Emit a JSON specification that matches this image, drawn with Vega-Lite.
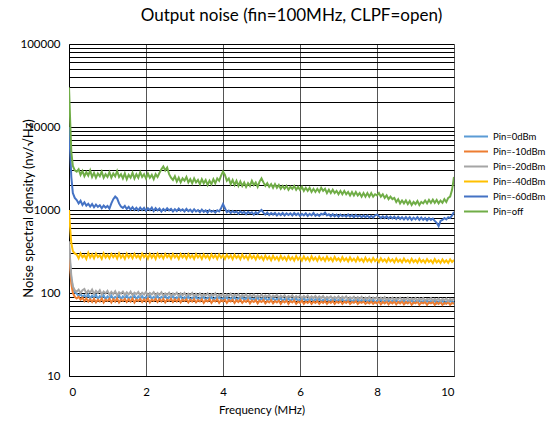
{
  "$schema": "https://vega.github.io/schema/vega-lite/v6.json",
  "width": 385,
  "height": 332,
  "autosize": {"type": "none"},
  "padding": {"left": 69, "top": 44, "right": 94, "bottom": 47},
  "background": "white",
  "title": {
    "text": "Output noise (fin=100MHz, CLPF=open)",
    "font": "Lato",
    "fontSize": 17,
    "fontWeight": "normal",
    "color": "#000",
    "anchor": "middle",
    "dx": 30,
    "offset": 13
  },
  "datasets": {
    "names": [
      {"k": "a", "name": "Pin=0dBm"},
      {"k": "b", "name": "Pin=-10dBm"},
      {"k": "c", "name": "Pin=-20dBm"},
      {"k": "d", "name": "Pin=-40dBm"},
      {"k": "e", "name": "Pin=-60dBm"},
      {"k": "g", "name": "Pin=off"}
    ]
  },
  "data": {
    "values": [
      {"f":0,"a":380,"b":350,"c":420,"d":1000,"e":10000,"g":30000},
      {"f":0.03,"a":220,"b":200,"c":250,"d":600,"e":5000,"g":12000},
      {"f":0.06,"a":150,"b":130,"c":160,"d":400,"e":2500,"g":5000},
      {"f":0.1,"a":115,"b":100,"c":120,"d":320,"e":1600,"g":3400},
      {"f":0.15,"a":102,"b":90,"c":108,"d":300,"e":1400,"g":3000},
      {"f":0.2,"a":98,"b":86,"c":104,"d":290,"e":1320,"g":2900},
      {"f":0.25,"a":92,"b":90,"c":110,"d":262,"e":1200,"g":3100},
      {"f":0.3,"a":97,"b":83,"c":100,"d":300,"e":1290,"g":2650},
      {"f":0.35,"a":90,"b":88,"c":108,"d":270,"e":1150,"g":2950},
      {"f":0.4,"a":94,"b":80,"c":112,"d":285,"e":1240,"g":2550},
      {"f":0.45,"a":88,"b":86,"c":99,"d":258,"e":1130,"g":2850},
      {"f":0.5,"a":96,"b":79,"c":107,"d":305,"e":1190,"g":2600},
      {"f":0.55,"a":86,"b":84,"c":101,"d":268,"e":1100,"g":3000},
      {"f":0.6,"a":93,"b":78,"c":110,"d":292,"e":1180,"g":2500},
      {"f":0.65,"a":88,"b":85,"c":97,"d":262,"e":1080,"g":2800},
      {"f":0.7,"a":95,"b":77,"c":106,"d":298,"e":1160,"g":2450},
      {"f":0.75,"a":85,"b":83,"c":100,"d":270,"e":1090,"g":2750},
      {"f":0.8,"a":92,"b":79,"c":108,"d":285,"e":1140,"g":2550},
      {"f":0.85,"a":87,"b":86,"c":96,"d":258,"e":1050,"g":2900},
      {"f":0.9,"a":94,"b":77,"c":104,"d":300,"e":1130,"g":2450},
      {"f":0.95,"a":84,"b":83,"c":99,"d":268,"e":1070,"g":2700},
      {"f":1.0,"a":91,"b":80,"c":106,"d":288,"e":1120,"g":2500},
      {"f":1.05,"a":86,"b":85,"c":95,"d":262,"e":1040,"g":2850},
      {"f":1.1,"a":93,"b":77,"c":103,"d":296,"e":1200,"g":2450},
      {"f":1.15,"a":85,"b":84,"c":97,"d":270,"e":1350,"g":2750},
      {"f":1.2,"a":90,"b":79,"c":105,"d":290,"e":1450,"g":2550},
      {"f":1.25,"a":87,"b":86,"c":94,"d":260,"e":1380,"g":2950},
      {"f":1.3,"a":94,"b":77,"c":102,"d":300,"e":1200,"g":2500},
      {"f":1.35,"a":84,"b":83,"c":98,"d":266,"e":1100,"g":2700},
      {"f":1.4,"a":91,"b":80,"c":104,"d":287,"e":1060,"g":2400},
      {"f":1.45,"a":86,"b":85,"c":95,"d":258,"e":1120,"g":2750},
      {"f":1.5,"a":93,"b":78,"c":102,"d":298,"e":1030,"g":2350},
      {"f":1.55,"a":85,"b":84,"c":96,"d":268,"e":1090,"g":2650},
      {"f":1.6,"a":90,"b":79,"c":104,"d":290,"e":1010,"g":2450},
      {"f":1.65,"a":87,"b":86,"c":94,"d":262,"e":1080,"g":2800},
      {"f":1.7,"a":93,"b":77,"c":101,"d":296,"e":1000,"g":2400},
      {"f":1.75,"a":84,"b":83,"c":97,"d":268,"e":1060,"g":2700},
      {"f":1.8,"a":91,"b":80,"c":103,"d":285,"e":990,"g":2450},
      {"f":1.85,"a":86,"b":85,"c":94,"d":258,"e":1070,"g":2850},
      {"f":1.9,"a":92,"b":78,"c":101,"d":298,"e":1000,"g":2500},
      {"f":1.95,"a":84,"b":84,"c":96,"d":270,"e":1060,"g":2700},
      {"f":2.0,"a":90,"b":79,"c":103,"d":288,"e":980,"g":2400},
      {"f":2.05,"a":87,"b":86,"c":93,"d":260,"e":1050,"g":2750},
      {"f":2.1,"a":93,"b":77,"c":100,"d":296,"e":1000,"g":2450},
      {"f":2.15,"a":85,"b":83,"c":96,"d":266,"e":1070,"g":2650},
      {"f":2.2,"a":90,"b":80,"c":102,"d":290,"e":970,"g":2350},
      {"f":2.25,"a":86,"b":85,"c":93,"d":258,"e":1050,"g":2700},
      {"f":2.3,"a":92,"b":78,"c":100,"d":298,"e":990,"g":2500},
      {"f":2.35,"a":84,"b":84,"c":95,"d":268,"e":1040,"g":2800},
      {"f":2.4,"a":90,"b":79,"c":102,"d":286,"e":960,"g":3100},
      {"f":2.45,"a":87,"b":85,"c":93,"d":260,"e":1030,"g":3350},
      {"f":2.5,"a":93,"b":77,"c":99,"d":296,"e":980,"g":3000},
      {"f":2.55,"a":84,"b":83,"c":95,"d":270,"e":1050,"g":3250},
      {"f":2.6,"a":90,"b":80,"c":101,"d":288,"e":990,"g":2700},
      {"f":2.65,"a":86,"b":85,"c":92,"d":260,"e":1030,"g":2450},
      {"f":2.7,"a":92,"b":78,"c":99,"d":295,"e":960,"g":2300},
      {"f":2.75,"a":84,"b":84,"c":95,"d":268,"e":1020,"g":2550},
      {"f":2.8,"a":89,"b":79,"c":101,"d":286,"e":970,"g":2200},
      {"f":2.85,"a":86,"b":85,"c":92,"d":258,"e":1040,"g":2450},
      {"f":2.9,"a":92,"b":77,"c":99,"d":294,"e":980,"g":2150},
      {"f":2.95,"a":83,"b":83,"c":94,"d":268,"e":1020,"g":2400},
      {"f":3.0,"a":89,"b":80,"c":100,"d":288,"e":960,"g":2250},
      {"f":3.05,"a":85,"b":84,"c":92,"d":260,"e":1030,"g":2500},
      {"f":3.1,"a":91,"b":77,"c":98,"d":295,"e":970,"g":2150},
      {"f":3.15,"a":83,"b":83,"c":94,"d":266,"e":1010,"g":2350},
      {"f":3.2,"a":88,"b":79,"c":100,"d":285,"e":950,"g":2100},
      {"f":3.25,"a":85,"b":84,"c":91,"d":258,"e":1020,"g":2400},
      {"f":3.3,"a":91,"b":77,"c":98,"d":294,"e":960,"g":2150},
      {"f":3.35,"a":83,"b":82,"c":93,"d":268,"e":1000,"g":2300},
      {"f":3.4,"a":88,"b":79,"c":99,"d":286,"e":940,"g":2050},
      {"f":3.45,"a":85,"b":84,"c":91,"d":258,"e":1010,"g":2350},
      {"f":3.5,"a":90,"b":76,"c":97,"d":292,"e":950,"g":2100},
      {"f":3.55,"a":83,"b":82,"c":93,"d":266,"e":990,"g":2300},
      {"f":3.6,"a":88,"b":79,"c":99,"d":284,"e":930,"g":2000},
      {"f":3.65,"a":84,"b":84,"c":91,"d":256,"e":1000,"g":2250},
      {"f":3.7,"a":90,"b":76,"c":97,"d":292,"e":950,"g":2050},
      {"f":3.75,"a":82,"b":82,"c":93,"d":266,"e":980,"g":2350},
      {"f":3.8,"a":88,"b":79,"c":99,"d":286,"e":930,"g":2100},
      {"f":3.85,"a":85,"b":84,"c":90,"d":258,"e":990,"g":2400},
      {"f":3.9,"a":90,"b":76,"c":96,"d":292,"e":960,"g":2250},
      {"f":3.95,"a":83,"b":82,"c":92,"d":266,"e":1050,"g":2600},
      {"f":4.0,"a":87,"b":79,"c":98,"d":284,"e":1180,"g":2900},
      {"f":4.05,"a":84,"b":83,"c":90,"d":258,"e":1050,"g":2650},
      {"f":4.1,"a":89,"b":76,"c":96,"d":290,"e":940,"g":2250},
      {"f":4.15,"a":82,"b":82,"c":92,"d":264,"e":980,"g":2400},
      {"f":4.2,"a":87,"b":79,"c":98,"d":284,"e":920,"g":2050},
      {"f":4.25,"a":84,"b":83,"c":90,"d":256,"e":970,"g":2300},
      {"f":4.3,"a":89,"b":76,"c":96,"d":290,"e":930,"g":2000},
      {"f":4.35,"a":82,"b":82,"c":92,"d":264,"e":960,"g":2250},
      {"f":4.4,"a":87,"b":78,"c":97,"d":282,"e":900,"g":1950},
      {"f":4.45,"a":84,"b":83,"c":89,"d":256,"e":960,"g":2200},
      {"f":4.5,"a":89,"b":76,"c":95,"d":290,"e":920,"g":1950},
      {"f":4.55,"a":82,"b":81,"c":91,"d":262,"e":950,"g":2150},
      {"f":4.6,"a":87,"b":78,"c":97,"d":280,"e":890,"g":1900},
      {"f":4.65,"a":83,"b":83,"c":89,"d":254,"e":950,"g":2100},
      {"f":4.7,"a":88,"b":75,"c":95,"d":288,"e":910,"g":1950},
      {"f":4.75,"a":82,"b":81,"c":91,"d":262,"e":940,"g":2250},
      {"f":4.8,"a":86,"b":78,"c":96,"d":280,"e":880,"g":2000},
      {"f":4.85,"a":83,"b":82,"c":89,"d":254,"e":940,"g":2150},
      {"f":4.9,"a":88,"b":75,"c":94,"d":286,"e":900,"g":1900},
      {"f":4.95,"a":81,"b":81,"c":90,"d":260,"e":960,"g":2200},
      {"f":5.0,"a":86,"b":78,"c":96,"d":276,"e":1000,"g":2400},
      {"f":5.05,"a":83,"b":82,"c":89,"d":250,"e":930,"g":2150},
      {"f":5.1,"a":87,"b":75,"c":94,"d":282,"e":880,"g":1950},
      {"f":5.15,"a":81,"b":80,"c":90,"d":256,"e":930,"g":2100},
      {"f":5.2,"a":86,"b":77,"c":95,"d":274,"e":870,"g":1900},
      {"f":5.25,"a":82,"b":82,"c":88,"d":248,"e":920,"g":2050},
      {"f":5.3,"a":87,"b":75,"c":93,"d":280,"e":880,"g":1850},
      {"f":5.35,"a":81,"b":80,"c":90,"d":254,"e":920,"g":2050},
      {"f":5.4,"a":85,"b":77,"c":95,"d":272,"e":860,"g":1850},
      {"f":5.45,"a":82,"b":81,"c":88,"d":248,"e":910,"g":2000},
      {"f":5.5,"a":87,"b":74,"c":93,"d":280,"e":870,"g":1800},
      {"f":5.55,"a":80,"b":80,"c":89,"d":254,"e":920,"g":1950},
      {"f":5.6,"a":85,"b":77,"c":94,"d":272,"e":860,"g":1800},
      {"f":5.65,"a":82,"b":81,"c":87,"d":248,"e":910,"g":1950},
      {"f":5.7,"a":86,"b":74,"c":92,"d":278,"e":870,"g":1750},
      {"f":5.75,"a":80,"b":80,"c":89,"d":252,"e":910,"g":1900},
      {"f":5.8,"a":85,"b":77,"c":94,"d":270,"e":860,"g":1800},
      {"f":5.85,"a":82,"b":81,"c":87,"d":246,"e":920,"g":1950},
      {"f":5.9,"a":86,"b":74,"c":92,"d":278,"e":870,"g":1750},
      {"f":5.95,"a":80,"b":79,"c":88,"d":252,"e":910,"g":1900},
      {"f":6.0,"a":84,"b":76,"c":93,"d":270,"e":850,"g":1750},
      {"f":6.05,"a":81,"b":81,"c":86,"d":246,"e":900,"g":1900},
      {"f":6.1,"a":86,"b":74,"c":92,"d":276,"e":860,"g":1700},
      {"f":6.15,"a":80,"b":79,"c":88,"d":250,"e":910,"g":1850},
      {"f":6.2,"a":84,"b":76,"c":93,"d":268,"e":850,"g":1700},
      {"f":6.25,"a":81,"b":80,"c":86,"d":244,"e":900,"g":1850},
      {"f":6.3,"a":85,"b":74,"c":91,"d":276,"e":860,"g":1650},
      {"f":6.35,"a":79,"b":79,"c":87,"d":250,"e":920,"g":1800},
      {"f":6.4,"a":84,"b":76,"c":92,"d":268,"e":850,"g":1650},
      {"f":6.45,"a":81,"b":80,"c":86,"d":244,"e":890,"g":1800},
      {"f":6.5,"a":85,"b":74,"c":91,"d":274,"e":850,"g":1650},
      {"f":6.55,"a":79,"b":79,"c":87,"d":250,"e":900,"g":1850},
      {"f":6.6,"a":83,"b":76,"c":92,"d":266,"e":880,"g":1700},
      {"f":6.65,"a":81,"b":80,"c":85,"d":244,"e":930,"g":1800},
      {"f":6.7,"a":85,"b":74,"c":90,"d":274,"e":860,"g":1600},
      {"f":6.75,"a":79,"b":79,"c":87,"d":248,"e":890,"g":1750},
      {"f":6.8,"a":83,"b":76,"c":91,"d":264,"e":840,"g":1600},
      {"f":6.85,"a":80,"b":80,"c":85,"d":242,"e":890,"g":1750},
      {"f":6.9,"a":84,"b":74,"c":90,"d":272,"e":840,"g":1600},
      {"f":6.95,"a":79,"b":79,"c":86,"d":248,"e":880,"g":1700},
      {"f":7.0,"a":83,"b":76,"c":91,"d":262,"e":830,"g":1550},
      {"f":7.05,"a":80,"b":80,"c":84,"d":242,"e":880,"g":1700},
      {"f":7.1,"a":84,"b":74,"c":90,"d":270,"e":840,"g":1550},
      {"f":7.15,"a":78,"b":79,"c":86,"d":246,"e":870,"g":1700},
      {"f":7.2,"a":82,"b":76,"c":91,"d":262,"e":830,"g":1550},
      {"f":7.25,"a":80,"b":80,"c":84,"d":240,"e":880,"g":1650},
      {"f":7.3,"a":84,"b":74,"c":89,"d":268,"e":830,"g":1500},
      {"f":7.35,"a":78,"b":78,"c":86,"d":244,"e":870,"g":1650},
      {"f":7.4,"a":82,"b":76,"c":90,"d":260,"e":820,"g":1500},
      {"f":7.45,"a":79,"b":80,"c":84,"d":240,"e":870,"g":1650},
      {"f":7.5,"a":83,"b":74,"c":89,"d":268,"e":830,"g":1500},
      {"f":7.55,"a":78,"b":78,"c":85,"d":244,"e":860,"g":1600},
      {"f":7.6,"a":82,"b":76,"c":90,"d":258,"e":820,"g":1450},
      {"f":7.65,"a":79,"b":79,"c":83,"d":238,"e":860,"g":1600},
      {"f":7.7,"a":83,"b":74,"c":88,"d":266,"e":820,"g":1450},
      {"f":7.75,"a":78,"b":78,"c":85,"d":242,"e":860,"g":1600},
      {"f":7.8,"a":82,"b":75,"c":90,"d":258,"e":810,"g":1450},
      {"f":7.85,"a":79,"b":79,"c":83,"d":238,"e":850,"g":1600},
      {"f":7.9,"a":83,"b":74,"c":88,"d":264,"e":810,"g":1450},
      {"f":7.95,"a":77,"b":78,"c":85,"d":242,"e":860,"g":1550},
      {"f":8.0,"a":81,"b":75,"c":89,"d":256,"e":880,"g":1500},
      {"f":8.05,"a":79,"b":79,"c":83,"d":236,"e":840,"g":1600},
      {"f":8.1,"a":83,"b":73,"c":88,"d":262,"e":800,"g":1450},
      {"f":8.15,"a":77,"b":78,"c":84,"d":240,"e":840,"g":1550},
      {"f":8.2,"a":81,"b":75,"c":89,"d":254,"e":800,"g":1400},
      {"f":8.25,"a":78,"b":79,"c":82,"d":236,"e":840,"g":1500},
      {"f":8.3,"a":82,"b":73,"c":87,"d":262,"e":790,"g":1350},
      {"f":8.35,"a":77,"b":78,"c":84,"d":240,"e":830,"g":1450},
      {"f":8.4,"a":81,"b":75,"c":88,"d":254,"e":790,"g":1350},
      {"f":8.45,"a":78,"b":79,"c":82,"d":234,"e":830,"g":1400},
      {"f":8.5,"a":82,"b":73,"c":87,"d":260,"e":780,"g":1250},
      {"f":8.55,"a":77,"b":78,"c":84,"d":238,"e":830,"g":1350},
      {"f":8.6,"a":80,"b":75,"c":88,"d":252,"e":780,"g":1200},
      {"f":8.65,"a":78,"b":79,"c":82,"d":234,"e":820,"g":1300},
      {"f":8.7,"a":82,"b":73,"c":86,"d":260,"e":770,"g":1200},
      {"f":8.75,"a":76,"b":78,"c":83,"d":238,"e":820,"g":1300},
      {"f":8.8,"a":80,"b":75,"c":88,"d":250,"e":770,"g":1180},
      {"f":8.85,"a":78,"b":79,"c":81,"d":232,"e":820,"g":1280},
      {"f":8.9,"a":82,"b":72,"c":86,"d":258,"e":760,"g":1150},
      {"f":8.95,"a":76,"b":77,"c":83,"d":236,"e":810,"g":1250},
      {"f":9.0,"a":80,"b":75,"c":87,"d":250,"e":770,"g":1180},
      {"f":9.05,"a":78,"b":79,"c":81,"d":232,"e":820,"g":1280},
      {"f":9.1,"a":81,"b":72,"c":86,"d":258,"e":760,"g":1150},
      {"f":9.15,"a":76,"b":77,"c":83,"d":236,"e":810,"g":1250},
      {"f":9.2,"a":80,"b":75,"c":87,"d":250,"e":760,"g":1200},
      {"f":9.25,"a":77,"b":78,"c":81,"d":232,"e":800,"g":1300},
      {"f":9.3,"a":81,"b":72,"c":85,"d":256,"e":750,"g":1200},
      {"f":9.35,"a":76,"b":77,"c":83,"d":236,"e":800,"g":1320},
      {"f":9.4,"a":80,"b":75,"c":87,"d":248,"e":760,"g":1220},
      {"f":9.45,"a":77,"b":78,"c":81,"d":230,"e":790,"g":1330},
      {"f":9.5,"a":81,"b":72,"c":85,"d":256,"e":740,"g":1220},
      {"f":9.55,"a":75,"b":77,"c":82,"d":234,"e":700,"g":1320},
      {"f":9.6,"a":79,"b":74,"c":86,"d":248,"e":640,"g":1200},
      {"f":9.65,"a":77,"b":78,"c":80,"d":230,"e":740,"g":1300},
      {"f":9.7,"a":81,"b":72,"c":85,"d":254,"e":760,"g":1220},
      {"f":9.75,"a":75,"b":76,"c":82,"d":234,"e":800,"g":1350},
      {"f":9.8,"a":79,"b":74,"c":86,"d":248,"e":770,"g":1250},
      {"f":9.85,"a":77,"b":78,"c":80,"d":230,"e":820,"g":1400},
      {"f":9.9,"a":81,"b":72,"c":85,"d":254,"e":800,"g":1450},
      {"f":9.95,"a":76,"b":76,"c":82,"d":236,"e":860,"g":1750},
      {"f":10.0,"a":80,"b":74,"c":86,"d":250,"e":950,"g":2500}
    ]
  },
  "transform": [
    {"fold": ["a", "b", "c", "d", "e", "g"], "as": ["k", "v"]},
    {"lookup": "k", "from": {"data": {"name": "names"}, "key": "k", "fields": ["name"]}}
  ],
  "mark": {"type": "line", "strokeWidth": 2, "clip": true},
  "encoding": {
    "x": {
      "field": "f",
      "type": "quantitative",
      "scale": {"domain": [0, 10], "nice": false},
      "axis": {
        "values": [0, 2, 4, 6, 8, 10],
        "title": "Frequency (MHz)",
        "grid": true,
        "gridColor": "#555",
        "gridWidth": 1,
        "gridOpacity": 1,
        "ticks": false,
        "domainColor": "#000",
        "labelPadding": 10,
        "titlePadding": 7
      }
    },
    "y": {
      "field": "v",
      "type": "quantitative",
      "scale": {"type": "log", "domain": [10, 100000], "nice": false},
      "axis": {
        "values": [10,20,30,40,50,60,70,80,90,100,200,300,400,500,600,700,800,900,1000,2000,3000,4000,5000,6000,7000,8000,9000,10000,20000,30000,40000,50000,60000,70000,80000,90000,100000],
        "format": "d",
        "labelExpr": "indexof([10,100,1000,10000,100000], datum.value) >= 0 ? datum.label : ''",
        "title": "Noise  spectral density (nv/√Hz)",
        "titleX": -41,
        "titleY": 164,
        "titleAngle": -90,
        "titleAlign": "center",
        "titleBaseline": "middle",
        "titleFontSize": 13,
        "grid": true,
        "gridColor": "#000",
        "gridWidth": 1,
        "gridOpacity": 1,
        "ticks": false,
        "domainColor": "#000",
        "labelPadding": 9
      }
    },
    "color": {
      "field": "name",
      "type": "nominal",
      "scale": {
        "domain": ["Pin=0dBm", "Pin=-10dBm", "Pin=-20dBm", "Pin=-40dBm", "Pin=-60dBm", "Pin=off"],
        "range": ["#5B9BD5", "#ED7D31", "#A5A5A5", "#FFC000", "#4472C4", "#70AD47"]
      },
      "legend": {
        "title": null,
        "orient": "none",
        "legendX": 394,
        "legendY": 86,
        "symbolType": "stroke",
        "symbolSize": 576,
        "symbolStrokeWidth": 2,
        "clipHeight": 13,
        "rowPadding": 2,
        "labelFontSize": 9.5,
        "labelFont": "Lato",
        "labelColor": "#000",
        "labelOffset": 4
      }
    }
  },
  "config": {
    "view": {"stroke": null},
    "axis": {
      "labelFont": "Lato",
      "titleFont": "Lato",
      "labelFontSize": 11.5,
      "titleFontSize": 11.5,
      "titleFontWeight": "normal",
      "labelColor": "#000",
      "titleColor": "#000"
    }
  }
}
